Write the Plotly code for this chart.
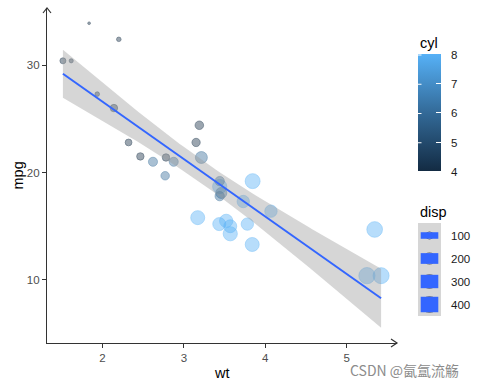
import numpy as np
import plotly.graph_objects as go

# ---- data (mtcars) ----
wt = [2.620, 2.875, 2.320, 3.215, 3.440, 3.460, 3.570, 3.190, 3.150, 3.440, 3.440,
      4.070, 3.730, 3.780, 5.250, 5.424, 5.345, 2.200, 1.615, 1.835, 2.465, 3.520,
      3.435, 3.840, 3.845, 1.935, 2.140, 1.513, 3.170, 2.770, 3.570, 2.780]
mpg = [21.0, 21.0, 22.8, 21.4, 18.7, 18.1, 14.3, 24.4, 22.8, 19.2, 17.8,
       16.4, 17.3, 15.2, 10.4, 10.4, 14.7, 32.4, 30.4, 33.9, 21.5, 15.5,
       15.2, 13.3, 19.2, 27.3, 26.0, 30.4, 15.8, 19.7, 15.0, 21.4]
cyl = [6, 6, 4, 6, 8, 6, 8, 4, 4, 6, 6, 8, 8, 8, 8, 8, 8, 4, 4, 4, 4, 8,
       8, 8, 8, 4, 4, 4, 8, 6, 8, 4]
disp = [160, 160, 108, 258, 360, 225, 360, 146.7, 140.8, 167.6, 167.6,
        275.8, 275.8, 275.8, 472, 460, 440, 78.7, 75.7, 71.1, 120.1, 318,
        304, 350, 400, 79, 120.3, 95.1, 351, 145, 301, 121]
x_ticks = [2, 3, 4, 5]
y_ticks = [10, 20, 30]
cyl_ticks = [4, 5, 6, 7, 8]
disp_breaks = [100, 200, 300, 400]

W, H = 485, 388
L, R, T, B = 47, 397, 8, 343  # plot area in pixels

def px(p):
    return (p - L) / (R - L)

def py(p):
    return (B - p) / (B - T)

# ---- colour scale (ggplot default continuous) ----
stops = [(0.0, (0x13, 0x2B, 0x43)), (0.5, (0x33, 0x6A, 0x98)), (1.0, (0x56, 0xB1, 0xF7))]
cmin, cmax = min(cyl), max(cyl)

def col(v, a):
    t = (v - cmin) / (cmax - cmin)
    for (t0, c0), (t1, c1) in zip(stops[:-1], stops[1:]):
        if t0 <= t <= t1:
            f = (t - t0) / (t1 - t0) if t1 > t0 else 0
            c = [round(c0[i] + f * (c1[i] - c0[i])) for i in range(3)]
            return f"rgba({c[0]},{c[1]},{c[2]},{a})"
    return "black"

colorscale = [[s, "#%02X%02X%02X" % c] for s, c in stops]

# ---- size scale (area) ----
dmin, dmax = min(disp), max(disp)
def size_val(d):
    return 1 + 5 * np.sqrt((d - dmin) / (dmax - dmin))
PXS = 2.7

# ---- linear fit + 95% band ----
xa, ya = np.array(wt), np.array(mpg)
n = len(xa)
b1, b0 = np.polyfit(xa, ya, 1)
resid = ya - (b0 + b1 * xa)
s = np.sqrt(np.sum(resid ** 2) / (n - 2))
sxx = np.sum((xa - xa.mean()) ** 2)
tq = 2.0423
xs = np.linspace(xa.min(), xa.max(), 80)
yfit = b0 + b1 * xs
se = s * np.sqrt(1 / n + (xs - xa.mean()) ** 2 / sxx)
lo, hi = yfit - tq * se, yfit + tq * se

xspan = xa.max() - xa.min()
xr = [xa.min() - 0.05 * xspan, xa.max() + 0.05 * xspan]
ymn, ymx = min(ya.min(), lo.min()), max(ya.max(), hi.max())
yr = [ymn - 0.05 * (ymx - ymn), ymx + 0.05 * (ymx - ymn)]

ALPHA = 0.6
fig = go.Figure()
fig.add_trace(go.Scatter(
    x=wt, y=mpg, mode="markers", showlegend=False, hoverinfo="skip",
    marker=dict(size=[PXS * size_val(d) for d in disp],
                color=[col(c, ALPHA) for c in cyl],
                line=dict(color=[col(c, ALPHA) for c in cyl], width=1))))
fig.add_trace(go.Scatter(x=xs, y=lo, mode="lines", line=dict(width=0),
                         showlegend=False, hoverinfo="skip"))
fig.add_trace(go.Scatter(x=xs, y=hi, mode="lines", line=dict(width=0),
                         fill="tonexty", fillcolor="rgba(153,153,153,0.4)",
                         showlegend=False, hoverinfo="skip"))
fig.add_trace(go.Scatter(x=xs, y=yfit, mode="lines",
                         line=dict(color="#3366FF", width=2),
                         showlegend=False, hoverinfo="skip"))

# colourbar carrier (bar spans 55..172 px)
CB_TOP, CB_LEN, CB_X, CB_W = 55, 117, 418, 23
CB_FIX = 8
fig.add_trace(go.Scatter(
    x=[None], y=[None], mode="markers", showlegend=False, hoverinfo="skip",
    marker=dict(color=[cmin], cmin=cmin, cmax=cmax, colorscale=colorscale,
                showscale=True,
                colorbar=dict(x=CB_X / W, xref="container", xanchor="left",
                              y=1 - (CB_TOP + CB_FIX) / H, yref="container",
                              yanchor="top",
                              len=CB_LEN, lenmode="pixels", thickness=CB_W,
                              thicknessmode="pixels", outlinewidth=0,
                              xpad=0, ypad=0, ticks="inside", ticklen=5,
                              tickcolor="white", tickwidth=1,
                              tickvals=cyl_ticks, showticklabels=False))))

font = "Liberation Sans, Arial, sans-serif"
axis_common = dict(showgrid=False, zeroline=False, showline=True, linecolor="#333333",
                   linewidth=1.2, ticks="outside", ticklen=4, tickcolor="#333333",
                   tickwidth=1, tickfont=dict(size=11.5, color="#4D4D4D"))
fig.update_xaxes(range=xr, tickvals=x_ticks, **axis_common)
fig.update_yaxes(range=yr, tickvals=y_ticks, **axis_common)

shapes = []
# axis arrowheads
shapes.append(dict(type="path", xref="paper", yref="paper",
                   path=f"M {px(43)} {py(13)} L {px(47)} {py(8)} L {px(51)} {py(13)}",
                   line=dict(color="#333333", width=1.2)))
shapes.append(dict(type="path", xref="paper", yref="paper",
                   path=f"M {px(391)} {py(339)} L {px(397)} {py(343)} L {px(391)} {py(347)}",
                   line=dict(color="#333333", width=1.2)))
# disp legend
shapes.append(dict(type="rect", xref="paper", yref="paper", x0=px(418), x1=px(441),
                   y0=py(223), y1=py(316), fillcolor="#D6D6D6", line=dict(width=0)))
annots = []
for i, b in enumerate(disp_breaks):
    cy = 235.5 + 23 * i
    sv = size_val(b)
    d = PXS * sv + 1
    shapes.append(dict(type="circle", xref="paper", yref="paper",
                       x0=px(429.5 - d / 2), x1=px(429.5 + d / 2),
                       y0=py(cy + d / 2), y1=py(cy - d / 2),
                       line=dict(color="rgba(0,0,0,0.45)", width=1)))
    h = 2.8 * sv
    shapes.append(dict(type="rect", xref="paper", yref="paper",
                       x0=px(420.7), x1=px(438.3), y0=py(cy + h / 2), y1=py(cy - h / 2),
                       fillcolor="#3366FF", line=dict(width=0)))
    annots.append(dict(x=px(449), y=py(cy), xref="paper", yref="paper", text=str(b),
                       showarrow=False, xanchor="left", yanchor="middle",
                       font=dict(size=11.5, color="#1A1A1A")))

# colourbar labels and left-edge white ticks
for v in cyl_ticks:
    ty = CB_TOP + (cmax - v) / (cmax - cmin) * CB_LEN
    annots.append(dict(x=px(449), y=py(ty), xref="paper", yref="paper", text=str(v),
                       showarrow=False, xanchor="left", yanchor="middle",
                       font=dict(size=11.5, color="#1A1A1A")))
    annots.append(dict(x=px(CB_X), y=py(ty), xref="paper", yref="paper", text="",
                       showarrow=True, arrowhead=0, arrowwidth=1, arrowcolor="white",
                       ax=5, ay=0, standoff=0, startstandoff=0))

titles = [
    dict(x=px(418), y=py(43), text="cyl", xanchor="left"),
    dict(x=px(418), y=py(212), text="disp", xanchor="left"),
    dict(x=px(222), y=py(373), text="wt", xanchor="center"),
    dict(x=px(17), y=py(175.5), text="mpg", xanchor="center", textangle=-90),
]
for a in titles:
    a.update(xref="paper", yref="paper", showarrow=False, yanchor="middle",
             font=dict(size=14.5, color="black"))
annots += titles
annots.append(dict(x=px(404), y=py(370), xref="paper", yref="paper",
                   text="CSDN @氤氲流觞", showarrow=False, xanchor="center",
                   yanchor="middle",
                   font=dict(size=14, color="#8C8C8C",
                             family="Noto Sans CJK SC, sans-serif")))

fig.update_layout(width=W, height=H, margin=dict(l=L, r=W - R, t=T, b=H - B),
                  plot_bgcolor="white", paper_bgcolor="white",
                  font=dict(family=font), shapes=shapes, annotations=annots)
fig.write_html("out.html", config={"displayModeBar": False},
               post_script="document.body.style.margin='0';document.body.style.padding='0';")
